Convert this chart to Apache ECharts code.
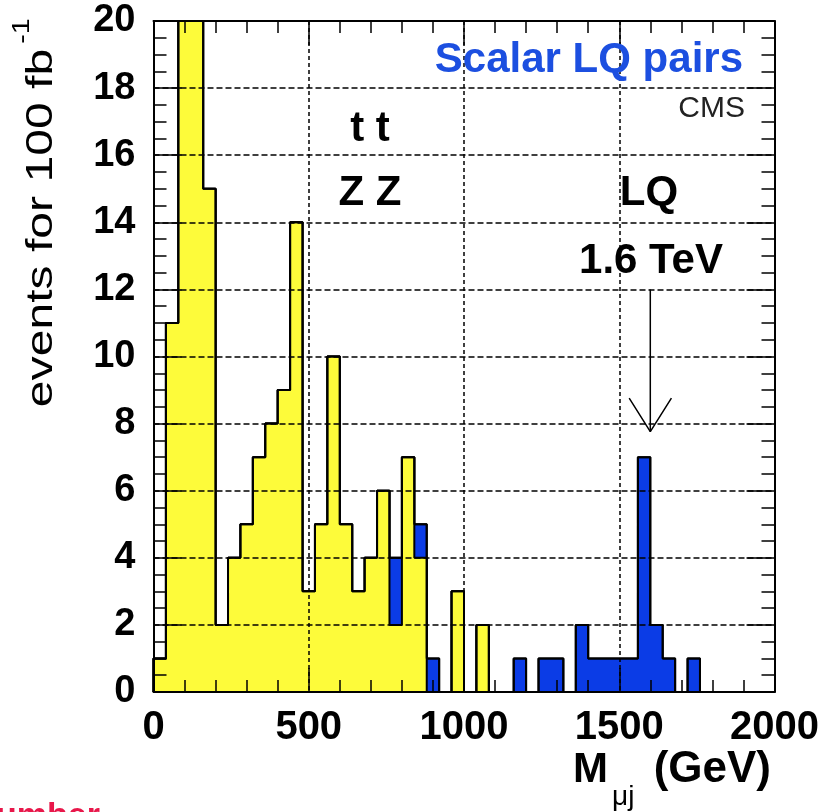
<!DOCTYPE html>
<html><head><meta charset="utf-8">
<script src="https://cdn.jsdelivr.net/npm/echarts@6/dist/echarts.min.js"></script>
<style>html,body{margin:0;padding:0;background:#fff}#c{width:833px;height:812px}</style>
</head><body><div id="c"></div>
<script>
// 40 GeV bins from 0 to 2000 GeV (lower edges)
const binLow = [0,40,80,120,160,200,240,280,320,360,400,440,480,520,560,600,640,680,720,760,
  800,840,880,920,960,1000,1040,1080,1120,1160,1200,1240,1280,1320,1360,1400,1440,1480,1520,1560,
  1600,1640,1680,1720,1760,1800,1840,1880,1920,1960];
const binWidth = 40;
// background (tt, ZZ) events per bin
const background = [1,11,24,22,15,2,4,5,7,8, 9,14,3,5,10,5,3,4,6,2, 7,4,0,0,3,0,2,0,0,0,
  0,0,0,0,0,0,0,0,0,0, 0,0,0,0,0,0,0,0,0,0];
// scalar LQ signal events per bin (stacked on background)
const signal = [0,0,0,0,0,0,0,0,0,0, 0,0,0,0,0,0,0,0,0,2, 0,1,1,0,0,0,0,0,0,1,
  0,1,1,0,2,1,1,1,1,7, 2,1,0,1,0,0,0,0,0,0];
const xTicks = [0,500,1000,1500,2000];
const yTicks = [0,2,4,6,8,10,12,14,16,18,20];
// arrow annotation (M = 1.6 TeV)
const arrowX = 1600, arrowTop = 12, arrowTip = 7.76, arrowHalfWidth = 68, arrowHeadHeight = 1.0;

const total = background.map((b,i)=>b+signal[i]);
const FONT = 'Liberation Sans, Arial, Helvetica, sans-serif';

function outline(vals){
  const pts=[[binLow[0],0]];
  vals.forEach((v,i)=>{ pts.push([binLow[i],v]); pts.push([binLow[i]+binWidth,v]); });
  pts.push([binLow[binLow.length-1]+binWidth,0]);
  return pts;
}

const YELLOW = '#fdfb3a', BLUE = '#0b3ce6';
const axisLine = {onZero:false, lineStyle:{color:'#000', width:2}};
const tickStyle = {color:'#000', width:1.5};
const plainLabel = v => String(v);

const chart = echarts.init(document.getElementById('c'), null, {renderer:'canvas'});
chart.setOption({
  backgroundColor:'#fff',
  animation:false,
  grid:{left:153.5, right:58.5, top:21, bottom:120},
  xAxis:[
    {type:'value', min:xTicks[0], max:xTicks[xTicks.length-1], interval:500, position:'bottom', z:10,
     axisLine:axisLine,
     axisTick:{inside:true, length:24, lineStyle:tickStyle},
     minorTick:{show:true, splitNumber:5, length:12, lineStyle:tickStyle},
     splitLine:{show:true, lineStyle:{color:'#000', type:[4,3], width:1.5}},
     axisLabel:{color:'#000', fontSize:40, fontWeight:'bold', fontFamily:FONT, margin:16, showMinLabel:true, showMaxLabel:true, formatter:plainLabel}},
    {type:'value', min:xTicks[0], max:xTicks[xTicks.length-1], interval:500, position:'top', z:10,
     axisLine:axisLine,
     axisTick:{inside:true, length:24, lineStyle:tickStyle},
     minorTick:{show:true, splitNumber:5, length:12, lineStyle:tickStyle},
     splitLine:{show:false}, axisLabel:{show:false}}
  ],
  yAxis:[
    {type:'value', min:yTicks[0], max:yTicks[yTicks.length-1], interval:2, position:'left', z:10,
     axisLine:axisLine,
     axisTick:{inside:true, length:28, lineStyle:tickStyle},
     minorTick:{show:true, splitNumber:4, length:13, lineStyle:tickStyle},
     splitLine:{show:true, lineStyle:{color:'#000', type:[6,3], width:1.5}},
     axisLabel:{color:'#000', fontSize:38, fontWeight:'bold', fontFamily:FONT, margin:18, showMinLabel:true, showMaxLabel:true, formatter:plainLabel}},
    {type:'value', min:yTicks[0], max:yTicks[yTicks.length-1], interval:2, position:'right', z:10,
     axisLine:axisLine,
     axisTick:{inside:true, length:28, lineStyle:tickStyle},
     minorTick:{show:true, splitNumber:4, length:13, lineStyle:tickStyle},
     splitLine:{show:false}, axisLabel:{show:false}}
  ],
  series:[
    {type:'line', name:'total', z:2, data:outline(total), symbol:'none', clip:true,
     lineStyle:{color:'#000', width:2}, areaStyle:{color:BLUE, opacity:1}},
    {type:'line', name:'background', z:3, data:outline(background), symbol:'none', clip:true,
     lineStyle:{color:'#000', width:2}, areaStyle:{color:YELLOW, opacity:1}},
    {type:'line', z:4, data:outline(total), symbol:'none', clip:true, lineStyle:{color:'#000', width:2}},
    {type:'line', z:12, data:[[arrowX, arrowTop],[arrowX, arrowTip]], symbol:'none', lineStyle:{color:'#000', width:1.5}},
    {type:'line', z:12, data:[[arrowX-arrowHalfWidth, arrowTip+arrowHeadHeight],[arrowX, arrowTip],[arrowX+arrowHalfWidth, arrowTip+arrowHeadHeight]], symbol:'none', lineStyle:{color:'#000', width:1.5}}
  ],
  graphic:[
    {type:'text', x:743, y:60, z:20, style:{text:'Scalar LQ pairs', align:'right', verticalAlign:'middle', font:'bold 42px '+FONT, fill:'#1c4fe0'}},
    {type:'text', x:745, y:109, z:20, style:{text:'CMS', align:'right', verticalAlign:'middle', font:'30px '+FONT, fill:'#222'}},
    {type:'text', x:370, y:129, z:20, style:{text:'t t', align:'center', verticalAlign:'middle', font:'bold 42px '+FONT, fill:'#000'}},
    {type:'text', x:370, y:193, z:20, style:{text:'Z Z', align:'center', verticalAlign:'middle', font:'bold 42px '+FONT, fill:'#000'}},
    {type:'text', x:649, y:193, z:20, style:{text:'LQ', align:'center', verticalAlign:'middle', font:'bold 42px '+FONT, fill:'#000'}},
    {type:'text', x:651, y:261, z:20, style:{text:'1.6 TeV', align:'center', verticalAlign:'middle', font:'bold 42px '+FONT, fill:'#000'}},
    // x-axis title
    {type:'text', x:573, y:770, z:20, style:{text:'M', align:'left', verticalAlign:'middle', font:'bold 42px '+FONT, fill:'#000'}},
    {type:'text', x:612, y:797, z:20, style:{text:'μj', align:'left', verticalAlign:'middle', font:'28px '+FONT, fill:'#000'}},
    {type:'text', x:771, y:770, z:20, style:{text:'(GeV)', align:'right', verticalAlign:'middle', font:'bold 44px '+FONT, fill:'#000'}},
    // y-axis title
    {type:'text', x:42, y:228, rotation:Math.PI/2, scaleX:1.3, z:20, style:{text:'events for 100 fb', align:'center', verticalAlign:'middle', font:'37px '+FONT, fill:'#000'}},
    {type:'text', x:22, y:31, rotation:Math.PI/2, scaleX:1.2, z:20, style:{text:'-1', align:'center', verticalAlign:'middle', font:'24px '+FONT, fill:'#000'}},
    // cropped slide text
    {type:'text', x:-4, y:817, z:20, style:{text:'umber', align:'left', verticalAlign:'middle', font:'bold 34px '+FONT, fill:'#e8174a'}}
  ]
});
</script></body></html>
